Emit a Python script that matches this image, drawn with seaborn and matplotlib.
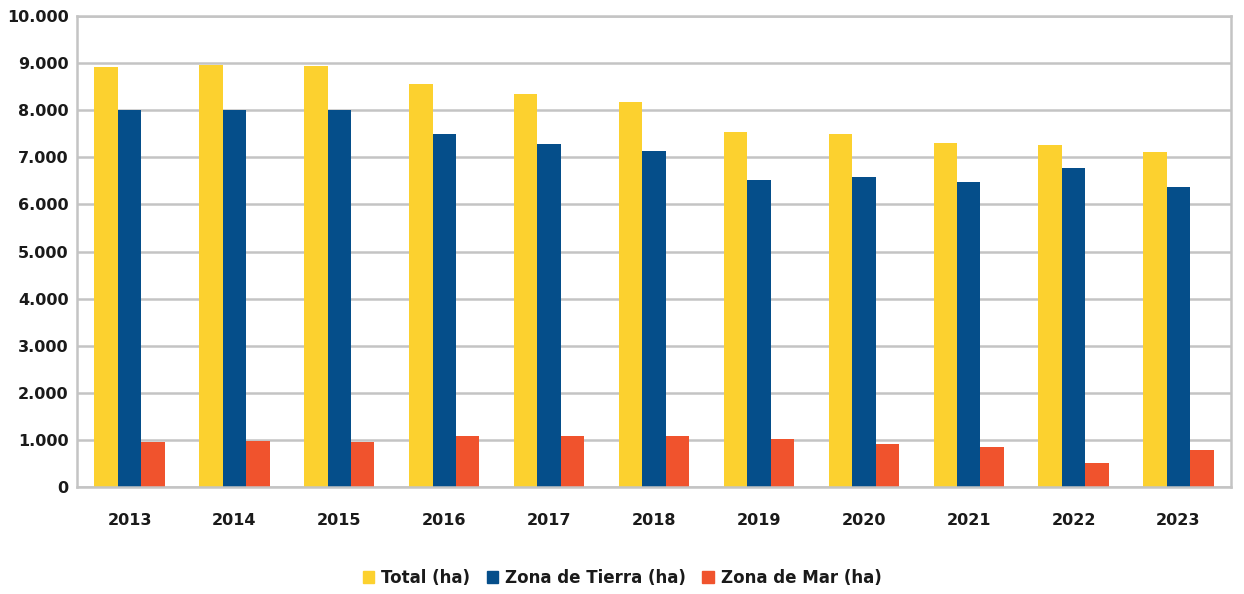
import matplotlib
matplotlib.use("Agg")
import matplotlib.pyplot as plt
from matplotlib.ticker import FuncFormatter
import seaborn as sns
import pandas as pd

# Superficie por año (hectáreas)
years = ["2013", "2014", "2015", "2016", "2017", "2018", "2019", "2020", "2021", "2022", "2023"]
total_ha = [8920, 8960, 8940, 8560, 8350, 8180, 7540, 7500, 7300, 7270, 7110]
tierra_ha = [8000, 8000, 8000, 7500, 7290, 7130, 6510, 6580, 6470, 6770, 6360]
mar_ha = [950, 970, 950, 1080, 1080, 1080, 1020, 920, 850, 520, 780]

series_names = ["Total (ha)", "Zona de Tierra (ha)", "Zona de Mar (ha)"]
colors = ["#FCD12F", "#054E8A", "#F0532D"]

df = pd.DataFrame({
    "Año": years * 3,
    "Serie": [series_names[0]] * len(years) + [series_names[1]] * len(years) + [series_names[2]] * len(years),
    "ha": total_ha + tierra_ha + mar_ha,
})

sns.set_theme(style="white")
plt.rcParams["font.family"] = ["DejaVu Sans"]

fig = plt.figure(figsize=(12.44, 5.94), dpi=100)
ax = fig.add_axes([0.062, 0.180, 0.9275, 0.793])

sns.barplot(data=df, x="Año", y="ha", hue="Serie", hue_order=series_names,
            palette=colors, width=0.67, gap=0, saturation=1, ax=ax,
            errorbar=None, edgecolor="none", linewidth=0)

ax.set_ylim(0, 10000)
ax.set_yticks(range(0, 10001, 1000))
ax.yaxis.set_major_formatter(FuncFormatter(lambda v, p: f"{int(v):,}".replace(",", ".")))
ax.grid(axis="y", color="#C4C4C4", linewidth=1.8)
ax.set_axisbelow(True)
for side in ["left", "right", "top", "bottom"]:
    ax.spines[side].set_visible(True)
    ax.spines[side].set_color("#C4C4C4")
    ax.spines[side].set_linewidth(1.8)

ax.set_xlabel("")
ax.set_ylabel("")
ax.tick_params(axis="both", length=0, labelsize=11.5)
ax.tick_params(axis="x", pad=19)
ax.tick_params(axis="y", pad=6)
for lbl in ax.get_xticklabels() + ax.get_yticklabels():
    lbl.set_fontweight("bold")
    lbl.set_color("#1A1A1A")

ax.legend_.remove()
handles = [plt.Rectangle((0, 0), 1, 1, color=c) for c in colors]
leg = fig.legend(handles, series_names, loc="center", bbox_to_anchor=(0.5, 0.027),
                 ncol=3, frameon=False, handlelength=0.7, handleheight=0.7,
                 handletextpad=0.4, columnspacing=1.0,
                 prop={"weight": "bold", "size": 12})
for t in leg.get_texts():
    t.set_color("#1A1A1A")

fig.savefig("out.png", dpi=100)
